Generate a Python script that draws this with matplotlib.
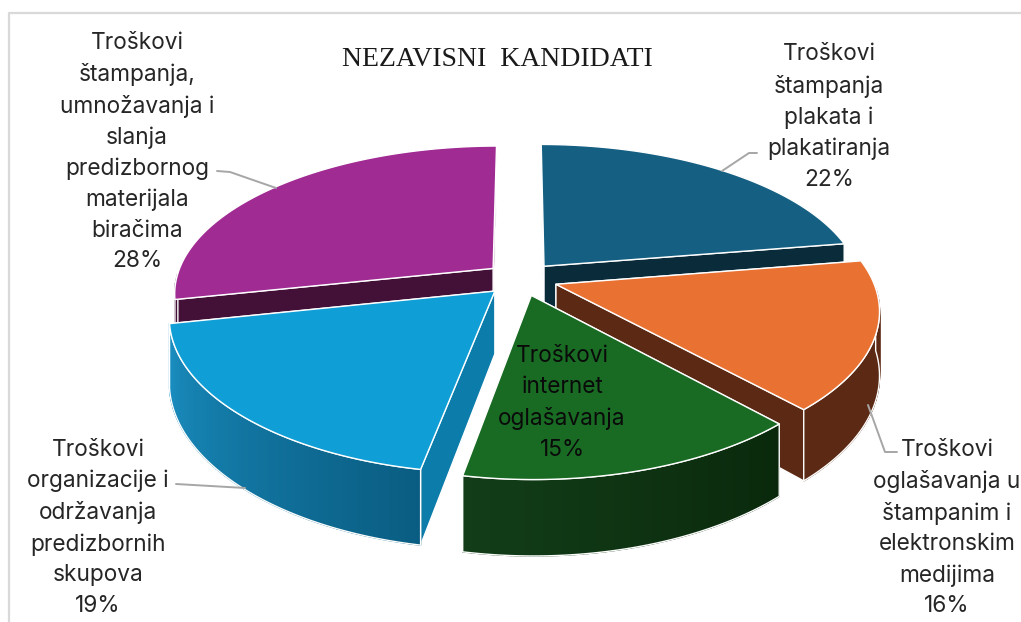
import numpy as np
import matplotlib
matplotlib.use('Agg')
import matplotlib.pyplot as plt
from matplotlib.colors import to_rgb
from matplotlib.patches import Polygon

# data, clockwise from the top
labels = ['Troškovi\nštampanja\nplakata i\nplakatiranja',
          'Troškovi\noglašavanja u\nštampanim i\nelektronskim\nmedijima',
          'Troškovi\ninternet\noglašavanja',
          'Troškovi\norganizacije i\nodržavanja\npredizbornih\nskupova',
          'Troškovi\nštampanja,\numnožavanja i\nslanja\npredizbornog\nmaterijala\nbiračima']
values = [22, 16, 15, 19, 28]
title = 'NEZAVISNI  KANDIDATI'

top_colors = ['#156082', '#E97132', '#196B24', '#0F9ED5', '#A02B93']
cut_colors = ['#0A2B3A', '#5C2A14', '#0D3312', '#0C7CAB', '#431138']
wall_start = ['#0A2B3A', '#5C2A14', '#0A290C', '#0A5D82', '#431138']
wall_end = ['#0A2B3A', '#5C2A14', '#123D18', '#1A8FC2', '#431138']

label_pos = [(829, 117), (947, 528), (562, 403), (98, 528), (137, 152)]
leaders = [[(757, 153), (749, 153), (722, 171)],
           [(868, 405), (885, 452), (897, 452)],
           None,
           [(176, 484), (245, 488)],
           [(217, 171), (230, 172), (276, 188)]]

# fake 3d settings
cx, cy = 521, 279
rx, ry = 318, 146.5
persp_x, persp_y = 0.14, 0.17
sag = 3
depth = 62
explode = 0.115
draw_order = [4, 0, 1, 3, 2]


def project(x, y, down=0.0):
    sx = cx + rx * x / (1 + persp_x * y)
    sy = cy + (-ry * y + down) / (1 + persp_y * y) + sag * x ** 2
    return sx, sy


fig = plt.figure(figsize=(10.21, 6.22), dpi=100)
ax = fig.add_axes([0, 0, 1, 1])
ax.set_xlim(0, 1021)
ax.set_ylim(622, 0)
ax.axis('off')

# chart frame, only top and left show in the crop
ax.plot([8.5, 8.5, 1021], [622, 12.5, 12.5], color='#D9D9D9', lw=1.6)

fracs = np.array(values) / sum(values)
edges = np.concatenate([[0], np.cumsum(fracs)]) * 2 * np.pi

for i in draw_order:
    t0, t1 = edges[i], edges[i + 1]
    mid = (t0 + t1) / 2
    ox, oy = explode * np.sin(mid), explode * np.cos(mid)
    t = np.linspace(t0, t1, 80)
    wx, wy = ox + np.sin(t), oy + np.cos(t)
    top = np.array(project(wx, wy)).T
    low = np.array(project(wx, wy, depth)).T
    apex = np.array(project(ox, oy))
    apex_low = np.array(project(ox, oy, depth))

    # the two cut faces, the one lower on screen is the one we see so it goes last
    faces = sorted([(top[0], low[0]), (top[-1], low[-1])], key=lambda f: f[0][1])
    for rim, rim_low in faces:
        ax.add_patch(Polygon([apex, rim, rim_low, apex_low], fc=cut_colors[i], ec='white', lw=1, joinstyle='round'))

    # outer wall, front part only, little strips so the colour can run along it
    front = np.cos(t) < 0
    if front.sum() > 1:
        c0, c1 = np.array(to_rgb(wall_start[i])), np.array(to_rgb(wall_end[i]))
        for k in range(len(t) - 1):
            if front[k] and front[k + 1]:
                col = c0 + (c1 - c0) * k / (len(t) - 2)
                ax.add_patch(Polygon([top[k], top[k + 1], low[k + 1], low[k]], fc=col, ec=col, lw=1))
        ax.add_patch(Polygon(np.vstack([top[front], low[front][::-1]]), fc='none', ec='white', lw=1, joinstyle='round'))

    ax.add_patch(Polygon(np.vstack([apex, top]), fc=top_colors[i], ec='white', lw=1, joinstyle='round'))

for pts in leaders:
    if pts is not None:
        ax.plot(*zip(*pts), color='#A6A6A6', lw=1.4, solid_capstyle='round')

for i, lab in enumerate(labels):
    col = '#0A0A0A' if i == 2 else '#262626'
    ax.text(label_pos[i][0], label_pos[i][1], lab + '\n%d%%' % values[i], ha='center', va='center',
            ma='center', fontsize=16.3, family='Inter', linespacing=1.5, color=col)

ax.text(497, 59, title, ha='center', va='center', fontsize=20, family='Liberation Serif', color='#1A1A1A')

fig.savefig('out.png', dpi=100)
